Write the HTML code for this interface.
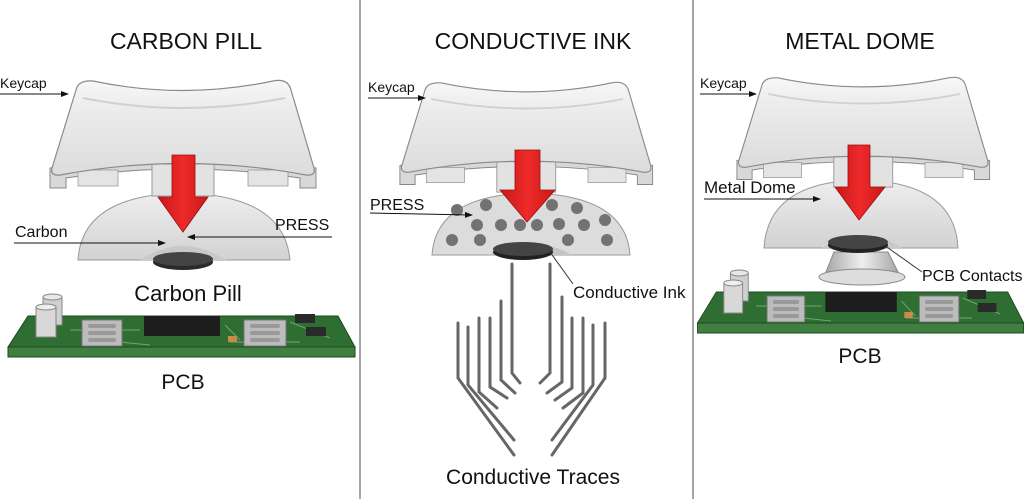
<!DOCTYPE html>
<html><head><meta charset="utf-8"><style>
html,body{margin:0;padding:0;background:#fff}
svg{display:block}
text{font-family:"Liberation Sans",Arial,sans-serif;fill:#111}
</style></head><body>
<svg width="1024" height="499" viewBox="0 0 1024 499" xmlns="http://www.w3.org/2000/svg">
<defs>
<linearGradient id="kg" x1="0" y1="0" x2="0" y2="1">
<stop offset="0" stop-color="#f7f7f7"/><stop offset="0.3" stop-color="#ececec"/><stop offset="1" stop-color="#dcdcdc"/></linearGradient>
<linearGradient id="dg" x1="0" y1="0" x2="0" y2="1">
<stop offset="0" stop-color="#eeeeee"/><stop offset="1" stop-color="#d2d2d2"/></linearGradient>
<linearGradient id="rg" x1="0" y1="0" x2="1" y2="0">
<stop offset="0" stop-color="#c81818"/><stop offset="0.5" stop-color="#ee2a2a"/><stop offset="1" stop-color="#c81818"/></linearGradient>
<linearGradient id="mg" x1="0" y1="0" x2="1" y2="0">
<stop offset="0" stop-color="#a8a8a8"/><stop offset="0.5" stop-color="#eeeeee"/><stop offset="1" stop-color="#a8a8a8"/></linearGradient>
<marker id="ar" markerWidth="8" markerHeight="8" refX="7" refY="4" orient="auto" markerUnits="userSpaceOnUse">
<path d="M0,1 L8,4 L0,7 Z" fill="#111"/></marker>
<g id="key">
<path d="M2,90 Q135,70 268,90 L268,110 L252,110 L252,100 Q135,82 18,100 L18,110 L2,110 Z" fill="#d8d8d8" stroke="#888" stroke-width="1"/>
<rect x="30" y="92" width="40" height="16" fill="#e4e4e4" stroke="#999" stroke-width="0.8"/>
<rect x="200" y="92" width="40" height="16" fill="#e4e4e4" stroke="#999" stroke-width="0.8"/>
<rect x="104" y="86" width="62" height="32" fill="#e2e2e2" stroke="#999" stroke-width="1"/>
<path d="M28,12 Q30,2 45,3 Q135,22 225,3 Q240,0 243,12 L266,90 Q268,98 258,97 Q135,74 12,97 Q2,98 4,90 Z" fill="url(#kg)" stroke="#8a8a8a" stroke-width="1.2"/>
<path d="M35,20 Q135,40 237,20" fill="none" stroke="#d0d0d0" stroke-width="2"/>
</g>
<g id="pcb">
<path d="M28,316 L338,316 L355,347 L8,347 Z" fill="#2f6e33" stroke="#1d4a20"/>
<rect x="8" y="347" width="347" height="10" fill="#3f7f3f" stroke="#1d4a20"/>
<path d="M70,330 L140,330 M225,325 L240,340 M100,340 L150,345 M230,342 L300,342 M290,322 L330,338" stroke="#6fa56f" stroke-width="1" fill="none"/>
<rect x="82" y="320" width="40" height="26" fill="#bcbcbc" stroke="#777"/>
<rect x="88" y="324" width="28" height="4" rx="2" fill="#999"/><rect x="88" y="331" width="28" height="4" rx="2" fill="#999"/><rect x="88" y="338" width="28" height="4" rx="2" fill="#999"/>
<rect x="244" y="320" width="42" height="26" fill="#bcbcbc" stroke="#777"/>
<rect x="250" y="324" width="30" height="4" rx="2" fill="#999"/><rect x="250" y="331" width="30" height="4" rx="2" fill="#999"/><rect x="250" y="338" width="30" height="4" rx="2" fill="#999"/>
<rect x="144" y="316" width="76" height="20" fill="#1d1d1d"/>
<rect x="228" y="336" width="9" height="6" fill="#c98a4a"/>
<rect x="295" y="314" width="20" height="9" fill="#2a2a2a"/><rect x="306" y="327" width="20" height="9" fill="#2a2a2a"/>
<rect x="43" y="297" width="19" height="28" fill="#cfcfcf" stroke="#888"/><ellipse cx="52.5" cy="297" rx="9.5" ry="3" fill="#e8e8e8" stroke="#888"/>
<rect x="36" y="307" width="20" height="30" fill="#d8d8d8" stroke="#888"/><ellipse cx="46" cy="307" rx="10" ry="3" fill="#eee" stroke="#888"/>
</g>
</defs>

<line x1="360" y1="0" x2="360" y2="499" stroke="#888" stroke-width="1.5"/>
<line x1="693" y1="0" x2="693" y2="499" stroke="#888" stroke-width="1.5"/>

<text x="186" y="49" font-size="23" text-anchor="middle">CARBON PILL</text>
<text x="533" y="49" font-size="23" text-anchor="middle">CONDUCTIVE INK</text>
<text x="860" y="49" font-size="23" text-anchor="middle">METAL DOME</text>

<!-- Panel 1 -->
<path d="M78,260 Q82,195 183,193 Q284,195 290,260 Z" fill="url(#dg)" stroke="#999"/>
<path d="M140,260 Q183,232 226,260 Z" fill="#c8c8c8"/>
<use href="#key" x="48" y="78"/>
<path d="M172,155 L195,155 L195,197 L208,197 L183,232 L158,197 L172,197 Z" fill="url(#rg)" stroke="#9a1010" stroke-width="0.8"/>
<ellipse cx="183" cy="262" rx="30" ry="8" fill="#2a2a2a"/><ellipse cx="183" cy="259" rx="30" ry="7" fill="#444"/>
<text x="0" y="88" font-size="14">Keycap</text>
<line x1="0" y1="94" x2="68" y2="94" stroke="#111" marker-end="url(#ar)"/>
<text x="15" y="237" font-size="16">Carbon</text>
<line x1="14" y1="243" x2="165" y2="243" stroke="#111" marker-end="url(#ar)"/>
<text x="275" y="230" font-size="16">PRESS</text>
<line x1="332" y1="237" x2="188" y2="237" stroke="#111" marker-end="url(#ar)"/>
<text x="188" y="301" font-size="22" text-anchor="middle">Carbon Pill</text>
<use href="#pcb"/>
<text x="183" y="389" font-size="21" text-anchor="middle">PCB</text>

<!-- Panel 2 -->
<path d="M432,255 Q436,195 530,193 Q626,195 630,255 Z" fill="#dcdcdc" stroke="#999"/>
<path d="M488,255 Q530,232 572,255 Z" fill="#c4c4c4"/>
<g fill="#727272">
<circle cx="457" cy="210" r="6"/><circle cx="486" cy="205" r="6"/><circle cx="552" cy="205" r="6"/><circle cx="577" cy="208" r="6"/><circle cx="477" cy="225" r="6"/><circle cx="501" cy="225" r="6"/><circle cx="520" cy="225" r="6"/><circle cx="537" cy="225" r="6"/><circle cx="559" cy="224" r="6"/><circle cx="584" cy="225" r="6"/><circle cx="452" cy="240" r="6"/><circle cx="480" cy="240" r="6"/><circle cx="568" cy="240" r="6"/><circle cx="607" cy="240" r="6"/><circle cx="605" cy="220" r="6"/>
</g>
<use href="#key" x="398" y="80" transform="translate(398 80) scale(0.95 0.95) translate(-398 -80)"/>
<path d="M515,150 L540,150 L540,190 L555,190 L527,222 L500,190 L515,190 Z" fill="url(#rg)" stroke="#9a1010" stroke-width="0.8"/>
<ellipse cx="523" cy="252" rx="30" ry="8" fill="#222"/><ellipse cx="523" cy="249" rx="30" ry="7" fill="#444"/>
<text x="368" y="92" font-size="14">Keycap</text>
<line x1="368" y1="98" x2="425" y2="98" stroke="#111" marker-end="url(#ar)"/>
<text x="370" y="210" font-size="16">PRESS</text>
<line x1="370" y1="213" x2="472" y2="215" stroke="#111" marker-end="url(#ar)"/>
<line x1="550" y1="252" x2="573" y2="284" stroke="#333"/>
<text x="573" y="298" font-size="17">Conductive Ink</text>
<g fill="none" stroke="#666" stroke-width="3" stroke-linecap="round">
<polyline points="458,323 458,378 514,455"/>
<polyline points="468,327 468,385 514,440"/>
<polyline points="479,318 479,392 497,408"/>
<polyline points="490,318 490,387 507,398"/>
<polyline points="501,301 501,380 515,393"/>
<polyline points="512,264 512,373 520,383"/>
<polyline points="550,264 550,373 540,383"/>
<polyline points="562,297 562,382 547,393"/>
<polyline points="572,318 572,388 555,400"/>
<polyline points="583,318 583,393 563,408"/>
<polyline points="593,325 593,385 552,440"/>
<polyline points="605,323 605,378 552,455"/>
</g>
<text x="533" y="484" font-size="21" text-anchor="middle">Conductive Traces</text>

<!-- Panel 3 -->
<path d="M764,248 Q768,182 860,180 Q955,182 958,248 Z" fill="url(#dg)" stroke="#999"/>
<path d="M822,248 Q862,222 902,248 Z" fill="#c8c8c8"/>
<path d="M834,252 L888,252 L898,272 L826,272 Z" fill="url(#mg)" stroke="#888"/>
<ellipse cx="862" cy="277" rx="43" ry="8" fill="#ddd" stroke="#888"/>
<use href="#key" x="735" y="75" transform="translate(735 75) scale(0.95 0.95) translate(-735 -75)"/>
<path d="M848,145 L870,145 L870,187 L885,187 L859,220 L835,187 L848,187 Z" fill="url(#rg)" stroke="#9a1010" stroke-width="0.8"/>
<ellipse cx="858" cy="245" rx="30" ry="8" fill="#222"/><ellipse cx="858" cy="242" rx="30" ry="7" fill="#444"/>
<text x="700" y="88" font-size="14">Keycap</text>
<line x1="700" y1="94" x2="756" y2="94" stroke="#111" marker-end="url(#ar)"/>
<text x="704" y="193" font-size="17">Metal Dome</text>
<line x1="704" y1="199" x2="820" y2="199" stroke="#111" marker-end="url(#ar)"/>
<line x1="884" y1="245" x2="922" y2="272" stroke="#333"/>
<text x="922" y="281" font-size="16">PCB Contacts</text>
<g transform="translate(690 -24) scale(0.94 1)"><use href="#pcb"/></g>
<text x="860" y="363" font-size="21" text-anchor="middle">PCB</text>
</svg>
</body></html>
